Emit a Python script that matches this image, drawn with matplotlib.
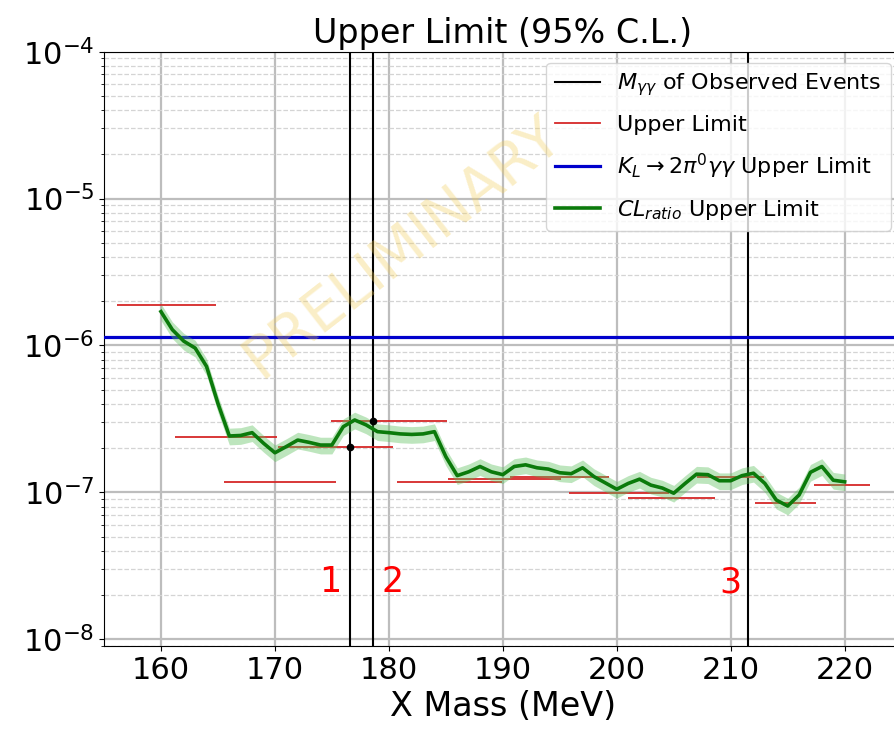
import numpy as np
import matplotlib
matplotlib.use("Agg")
import matplotlib.pyplot as plt
from matplotlib.lines import Line2D

# --- data -------------------------------------------------------------
# CL_ratio upper limit scan (mass in MeV)
mass = [160, 161, 162, 163, 164, 165, 166, 167, 168, 169,
        170, 171, 172, 173, 174, 175, 176, 177, 178, 179,
        180, 181, 182, 183, 184, 185, 186, 187, 188, 189,
        190, 191, 192, 193, 194, 195, 196, 197, 198, 199,
        200, 201, 202, 203, 204, 205, 206, 207, 208, 209,
        210, 211, 212, 213, 214, 215, 216, 217, 218, 219, 220]
cl_ratio_ul = [1.70e-6, 1.28e-6, 1.07e-6, 9.6e-7, 7.2e-7, 4.03e-7, 2.42e-7, 2.44e-7, 2.55e-7, 2.16e-7,
               1.86e-7, 2.05e-7, 2.27e-7, 2.19e-7, 2.10e-7, 2.10e-7, 2.80e-7, 3.11e-7, 2.88e-7, 2.59e-7,
               2.55e-7, 2.50e-7, 2.48e-7, 2.50e-7, 2.59e-7, 1.75e-7, 1.30e-7, 1.38e-7, 1.50e-7, 1.38e-7,
               1.32e-7, 1.50e-7, 1.54e-7, 1.47e-7, 1.44e-7, 1.36e-7, 1.34e-7, 1.47e-7, 1.28e-7, 1.16e-7,
               1.05e-7, 1.15e-7, 1.23e-7, 1.12e-7, 1.07e-7, 9.87e-8, 1.15e-7, 1.33e-7, 1.32e-7, 1.20e-7,
               1.20e-7, 1.30e-7, 1.35e-7, 1.15e-7, 8.87e-8, 8.07e-8, 9.6e-8, 1.37e-7, 1.50e-7, 1.21e-7, 1.18e-7]
cl_rel_err = 0.13  # relative width of the uncertainty band

# Per-window upper limits (window edges in MeV)
window_lo = [156.1, 161.2, 165.5, 170.3, 174.9, 180.7, 185.2, 190.6, 195.8, 201.0, 207.0, 212.1, 217.3]
window_hi = [164.8, 170.15, 175.4, 180.4, 185.1, 189.9, 195.1, 199.3, 204.6, 208.6, 212.9, 217.5, 222.2]
window_ul = [1.89e-6, 2.39e-7, 1.18e-7, 2.05e-7, 3.06e-7, 1.17e-7, 1.23e-7, 1.27e-7, 9.95e-8, 9.12e-8,
             1.28e-7, 8.51e-8, 1.12e-7]

# Observed two-photon invariant masses
event_mass = [176.59, 178.58, 211.54]
event_labels = ["1", "2", "3"]
event_label_x = [174.83, 180.36, 209.94]
event_marker_x = [176.59, 178.58]
event_marker_y = [2.05e-7, 3.06e-7]

# K_L -> 2pi0 gamma gamma upper limit
kl_ul = 1.15e-6

xticks = [160, 170, 180, 190, 200, 210, 220]

# --- figure -----------------------------------------------------------
fig = plt.figure(figsize=(8.95, 7.31), dpi=100)
ax = fig.add_axes([0.1162, 0.1163, 0.8912, 0.813])

ax.set_yscale("log")
ax.set_xlim(155, 225)
ax.set_ylim(9e-9, 1e-4)

ax.grid(True, which="major", color="#bdbdbd", lw=1.6, zorder=0)
ax.grid(True, which="minor", axis="y", color="#d4d4d4", lw=0.9, ls="--", zorder=0)
ax.set_axisbelow(True)

for m in event_mass:
    ax.axvline(m, color="black", lw=1.5, zorder=3)

ax.hlines(window_ul, window_lo, window_hi, color="#d62728", lw=1.3, zorder=3)
ax.axhline(kl_ul, color="#0000cc", lw=2.3, zorder=3)

cl = np.array(cl_ratio_ul)
ax.fill_between(mass, cl * (1 - cl_rel_err), cl * (1 + cl_rel_err),
                color="#5cc05c", alpha=0.4, lw=0, zorder=4)
ax.plot(mass, cl, color="#0b7a0b", lw=2.6, zorder=5)

ax.plot(event_marker_x, event_marker_y, "o", color="black", ms=4.5, zorder=6)

for xl, lab in zip(event_label_x, event_labels):
    ax.text(xl, 2.45e-8, lab, color="red", fontsize=25, ha="center", va="center", zorder=6)

ax.set_xticks(xticks)
ax.tick_params(axis="both", which="major", labelsize=22)
ax.set_title("Upper Limit (95% C.L.)", fontsize=24)
ax.set_xlabel("X Mass (MeV)", fontsize=24)

# legend proxies
handles = [
    Line2D([], [], color="black", lw=1.5),
    Line2D([], [], color="#d62728", lw=1.3),
    Line2D([], [], color="#0000cc", lw=2.3),
    Line2D([], [], color="#0b7a0b", lw=2.6),
]
labels = [
    r"$M_{\gamma\gamma}$ of Observed Events",
    "Upper Limit",
    r"$K_L \rightarrow 2\pi^0\gamma\gamma$ Upper Limit",
    r"$CL_{ratio}$ Upper Limit",
]
ax.legend(handles, labels, loc="upper right", fontsize=16, labelspacing=0.75,
          framealpha=0.8)

fig.text(402 / 895, 1 - 247 / 731, "PRELIMINARY", fontsize=42, color="#f2cc55",
         alpha=0.33, rotation=38, ha="center", va="center", zorder=10)

fig.savefig("out.png", dpi=100)
